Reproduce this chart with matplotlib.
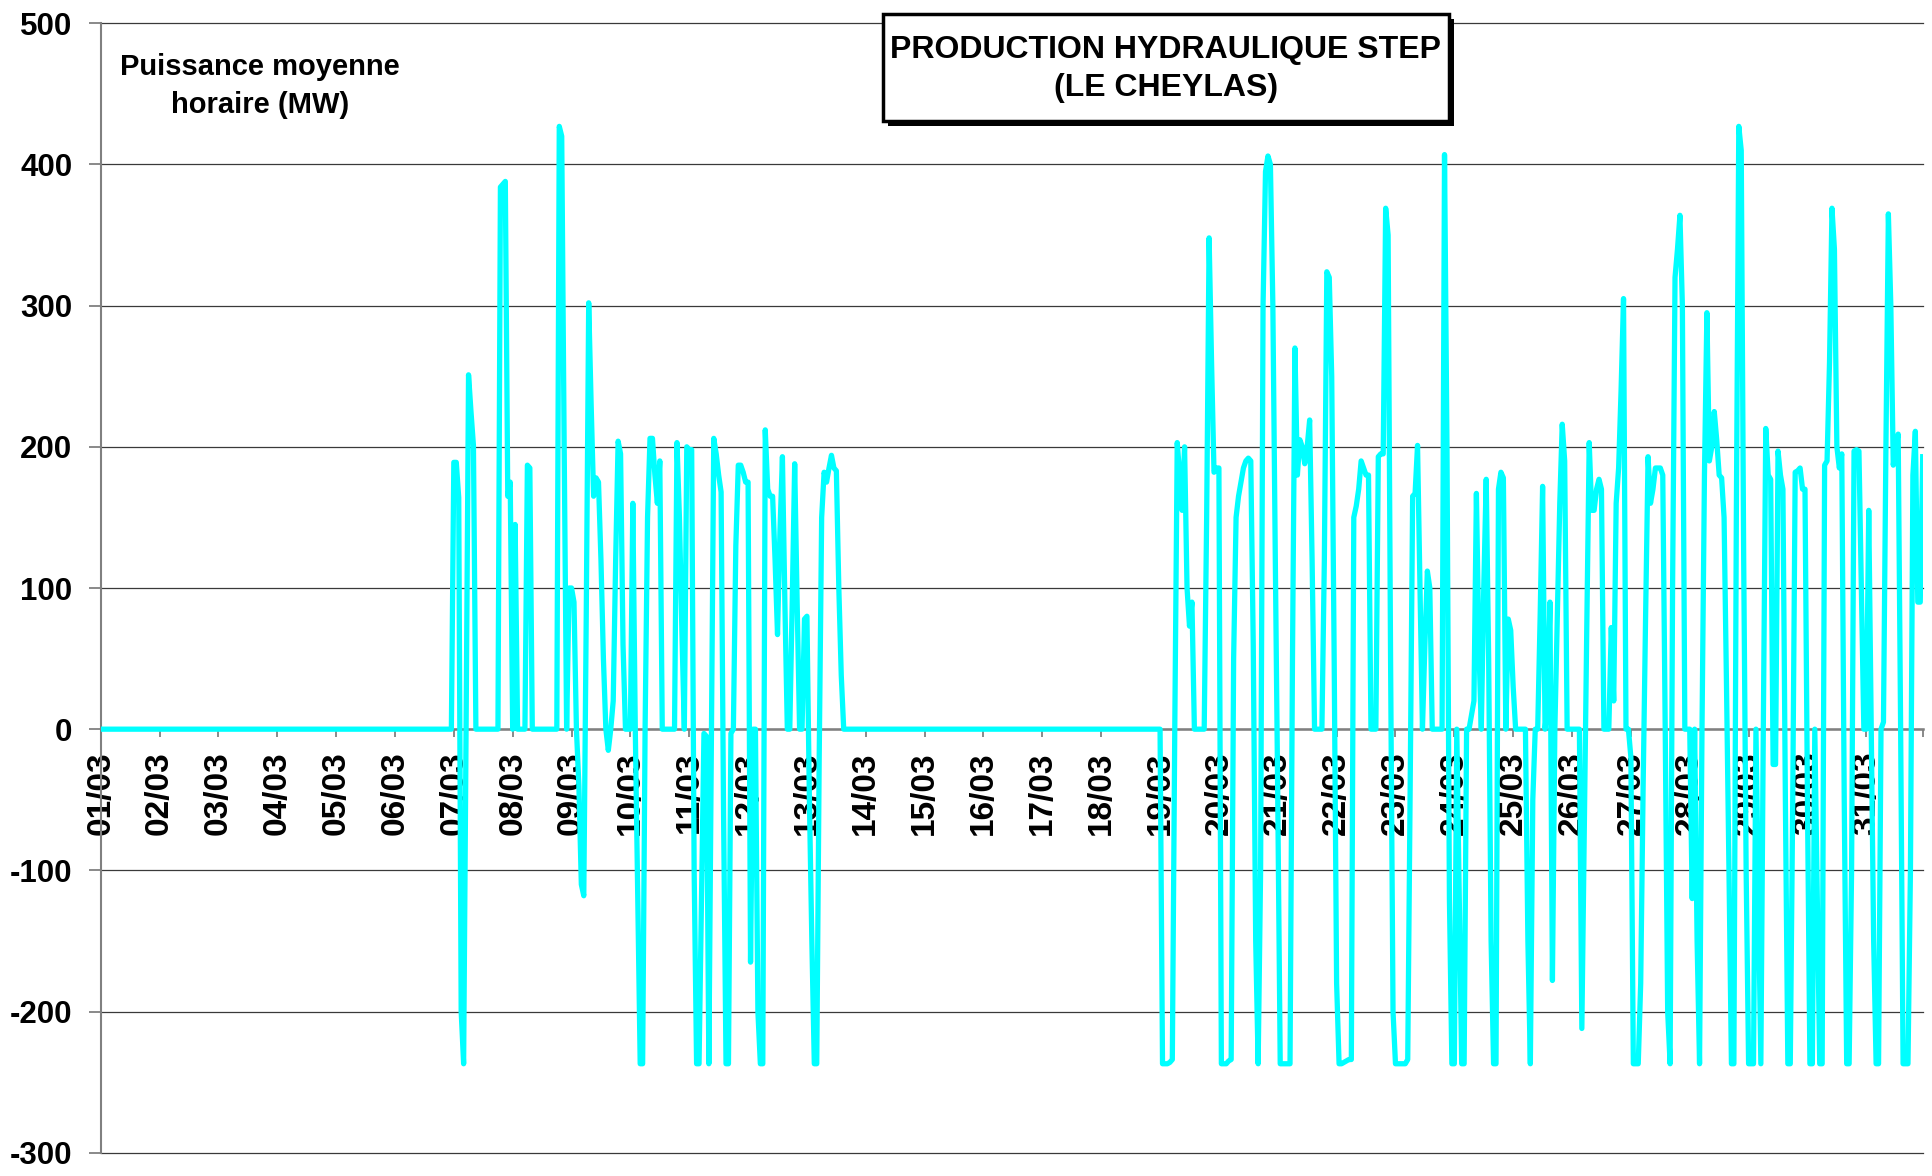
import matplotlib
matplotlib.use("Agg")
import matplotlib.pyplot as plt
import numpy as np
from matplotlib.patches import Rectangle

# ---------------- data (hourly mean power, MW) ----------------
day_labels = ["01/03", "02/03", "03/03", "04/03", "05/03", "06/03", "07/03", "08/03",
              "09/03", "10/03", "11/03", "12/03", "13/03", "14/03", "15/03", "16/03",
              "17/03", "18/03", "19/03", "20/03", "21/03", "22/03", "23/03", "24/03",
              "25/03", "26/03", "27/03", "28/03", "29/03", "30/03", "31/03"]

idle_day = [0] * 24  # days with no production / pumping

day07 = [189, 189, 164, -200, -237, 0, 251, 225, 201, 0, 0, 0, 0, 0, 0, 0, 0, 0, 0, 384, 386, 388, 165, 175]
day08 = [0, 145, 0, 0, 0, 0, 187, 185, 0, 0, 0, 0, 0, 0, 0, 0, 0, 0, 0, 427, 420, 200, 0, 100]
day09 = [100, 90, 0, -40, -110, -118, 80, 302, 230, 165, 178, 175, 120, 50, 0, -15, 0, 20, 120, 204, 195, 60, 0, 0]
day10 = [0, 160, 0, -120, -237, -237, 0, 150, 206, 206, 180, 160, 190, 0, 0, 0, 0, 0, 0, 203, 150, 70, 0, 200]
day11 = [198, 198, -100, -237, -237, -120, -3, -5, -237, -20, 206, 195, 180, 168, -60, -237, -237, -3, 0, 130, 187, 187, 182, 175]
day12 = [175, -165, 0, 0, -200, -237, -237, 212, 170, 165, 165, 120, 67, 140, 193, 90, 0, 0, 90, 188, 90, 0, 0, 78]
day13 = [80, -50, -150, -237, -237, -20, 150, 182, 175, 185, 194, 185, 183, 100, 38, 0, 0, 0, 0, 0, 0, 0, 0, 0]
day19 = [0, -237, -237, -237, -236, -234, 0, 203, 180, 155, 200, 100, 73, 90, 0, 0, 0, 0, 0, 150, 348, 260, 182, 185]
day20 = [185, -237, -237, -237, -235, -234, 50, 150, 165, 175, 185, 190, 192, 190, 60, -150, -237, -100, 300, 395, 406, 400, 300, 120]
day21 = [-50, -237, -237, -237, -237, -237, 50, 270, 180, 205, 200, 188, 200, 219, 120, 0, 0, 0, 0, 120, 324, 320, 250, 50]
day22 = [-180, -237, -237, -236, -235, -234, -234, 150, 158, 170, 190, 185, 180, 180, 0, 0, 0, 193, 195, 195, 369, 350, 50, -200]
day23 = [-237, -237, -237, -237, -237, -234, -40, 165, 167, 201, 100, 0, 60, 112, 100, 0, 0, 0, 0, 0, 407, 200, -120, -237]
day24 = [-237, 0, -120, -237, -237, 0, 0, 10, 20, 167, 60, 0, 100, 177, 50, -150, -237, -237, 170, 182, 178, 0, 78, 70]
day25 = [30, 0, 0, 0, 0, 0, -150, -237, -50, 0, 0, 80, 172, 0, 20, 90, -178, 0, 80, 160, 216, 190, 0, 0]
day26 = [0, 0, 0, 0, -212, -70, 70, 203, 155, 155, 170, 177, 170, 0, 0, 0, 72, 20, 160, 185, 240, 305, 0, 0]
day27 = [-20, -237, -237, -237, -180, -40, 80, 193, 160, 170, 185, 185, 185, 180, 0, -200, -237, 100, 320, 340, 364, 300, 0, 0]
day28 = [0, -120, 0, -150, -237, 0, 180, 295, 190, 200, 225, 205, 180, 178, 150, 30, -100, -237, -237, 150, 427, 410, 120, -100]
day29 = [-237, -237, -237, 0, -120, -237, 0, 213, 180, 177, -25, -25, 197, 180, 170, -50, -237, -237, -50, 182, 183, 185, 170, 170]
day30 = [-50, -237, -237, 0, -120, -237, -237, 187, 190, 260, 369, 340, 200, 185, 195, -50, -237, -237, -100, 197, 198, 197, 100, 0]
day31 = [0, 155, 0, -150, -237, -237, 0, 5, 200, 365, 300, 187, 200, 209, 0, -237, -237, -237, -100, 180, 211, 90, 90, 193]

month_days = [idle_day] * 6 + [day07, day08, day09, day10, day11, day12, day13] + \
             [idle_day] * 5 + [day19, day20, day21, day22, day23, day24, day25,
                               day26, day27, day28, day29, day30, day31]

title_text = "PRODUCTION HYDRAULIQUE STEP\n(LE CHEYLAS)"
ylabel_text = "Puissance moyenne\nhoraire (MW)"

# ---------------- figure ----------------
plt.rcParams['font.family'] = ['Liberation Sans', 'DejaVu Sans']
plt.rcParams['font.weight'] = 'bold'
plt.rcParams['axes.unicode_minus'] = False

W, H = 1933, 1176
fig = plt.figure(figsize=(W / 100, H / 100), dpi=100)
fig.patch.set_facecolor('white')
ax = fig.add_axes([100.7 / W, 1 - 1152.7 / H, (1922.7 - 100.7) / W, (1152.7 - 23.3) / H])

series = np.array(sum(month_days, []), dtype=float)
hours = np.arange(len(series))
ax.plot(hours, series, color='#00FFFF', lw=3.8, zorder=3)

ax.set_xlim(0, len(series) - 1)
ax.set_ylim(-300, 500)
ax.set_yticks(np.arange(-300, 501, 100))
ax.yaxis.grid(True, color='#3a3a3a', lw=0.9)
ax.set_axisbelow(True)
for gl in ax.get_ygridlines():
    gl.set_clip_on(False)

for s in ('top', 'right'):
    ax.spines[s].set_visible(False)
ax.spines['left'].set_color('#808080')
ax.spines['left'].set_linewidth(1.5)
ax.spines['bottom'].set_position(('data', 0))
ax.spines['bottom'].set_color('#808080')
ax.spines['bottom'].set_linewidth(1.8)
ax.spines['bottom'].set_zorder(2)

ax.set_xticks(np.arange(0, 24 * len(day_labels), 24))
ax.set_xticklabels(day_labels, rotation=90, fontweight='bold')
ax.set_xticks([len(series) - 1], minor=True)
ax.tick_params(axis='x', which='both', direction='out', length=6, width=1.3,
               color='#808080', pad=10, labelsize=24)
ax.tick_params(axis='y', direction='out', length=8.5, width=1.3,
               color='#808080', pad=12, labelsize=22.5)
for lab in ax.get_yticklabels():
    lab.set_fontweight('bold')

# title box with drop shadow
bx0, bx1 = 882.7 / W, 1448.6 / W
by1, by0 = 1 - 13.6 / H, 1 - 120.8 / H
dx, dy = 5 / W, 5 / H
fig.patches.append(Rectangle((bx0 + dx, by0 - dy), bx1 - bx0, by1 - by0,
                             transform=fig.transFigure, fc='black', ec='black', lw=0, zorder=5))
fig.patches.append(Rectangle((bx0, by0), bx1 - bx0, by1 - by0,
                             transform=fig.transFigure, fc='white', ec='black', lw=2.5, zorder=6))
fig.text((bx0 + bx1) / 2, 1 - 69 / H, title_text, ha='center', va='center',
         fontsize=23, fontweight='bold', linespacing=1.38, zorder=7)

fig.text(260 / W, 1 - 86 / H, ylabel_text, ha='center', va='center',
         fontsize=21, fontweight='bold', linespacing=1.42, zorder=7)

fig.savefig('out.png', dpi=100, facecolor='white')
